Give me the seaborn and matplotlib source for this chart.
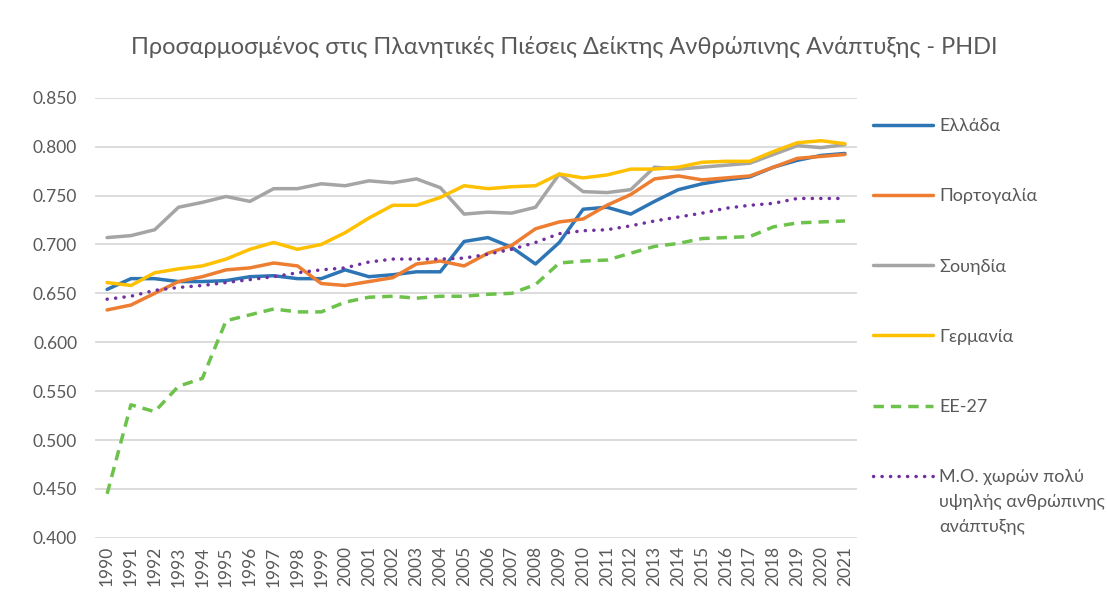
import matplotlib.pyplot as plt
import pandas as pd
import seaborn as sns

# values
years = [str(y) for y in range(1990, 2022)]

greece = [0.654, 0.665, 0.665, 0.662, 0.662, 0.663, 0.667, 0.668, 0.665, 0.665,
          0.674, 0.667, 0.669, 0.672, 0.672, 0.703, 0.707, 0.697, 0.680, 0.702,
          0.736, 0.738, 0.731, 0.744, 0.756, 0.762, 0.766, 0.769, 0.779, 0.786,
          0.791, 0.793]
portugal = [0.633, 0.638, 0.650, 0.662, 0.667, 0.674, 0.676, 0.681, 0.678, 0.660,
            0.658, 0.662, 0.666, 0.680, 0.683, 0.678, 0.691, 0.699, 0.716, 0.723,
            0.726, 0.740, 0.751, 0.767, 0.770, 0.766, 0.768, 0.770, 0.779, 0.788,
            0.790, 0.792]
sweden = [0.707, 0.709, 0.715, 0.738, 0.743, 0.749, 0.744, 0.757, 0.757, 0.762,
          0.760, 0.765, 0.763, 0.767, 0.758, 0.731, 0.733, 0.732, 0.738, 0.772,
          0.754, 0.753, 0.756, 0.779, 0.777, 0.779, 0.781, 0.783, 0.792, 0.801,
          0.799, 0.802]
germany = [0.661, 0.658, 0.671, 0.675, 0.678, 0.685, 0.695, 0.702, 0.695, 0.700,
           0.712, 0.727, 0.740, 0.740, 0.748, 0.760, 0.757, 0.759, 0.760, 0.772,
           0.768, 0.771, 0.777, 0.777, 0.779, 0.784, 0.785, 0.785, 0.795, 0.804,
           0.806, 0.803]
eu27 = [0.445, 0.536, 0.529, 0.555, 0.563, 0.622, 0.628, 0.634, 0.631, 0.631,
        0.641, 0.646, 0.647, 0.645, 0.647, 0.647, 0.649, 0.650, 0.659, 0.681,
        0.683, 0.684, 0.691, 0.698, 0.701, 0.706, 0.707, 0.708, 0.718, 0.722,
        0.723, 0.724]
very_high = [0.644, 0.647, 0.653, 0.656, 0.658, 0.661, 0.664, 0.667, 0.671, 0.674,
             0.676, 0.682, 0.685, 0.685, 0.685, 0.686, 0.690, 0.695, 0.702, 0.711,
             0.714, 0.715, 0.719, 0.724, 0.728, 0.732, 0.737, 0.740, 0.742, 0.747,
             0.747, 0.747]

labels = ['Ελλάδα', 'Πορτογαλία', 'Σουηδία', 'Γερμανία', 'ΕΕ-27', 'Μ.Ο. χωρών πολύ']
label_rest = ['υψηλής ανθρώπινης', 'ανάπτυξης']
series = [greece, portugal, sweden, germany, eu27, very_high]

colors = ['#2E75B6', '#ED7D31', '#A5A5A5', '#FFC000', '#6CC24A', '#7030A0']
styles = ['-', '-', '-', '-', (0, (3.0, 2.0)), (0, (0.05, 2.4))]
grey_txt = '#595959'

sns.set_style('white')
plt.rcParams['font.family'] = ['Lato', 'DejaVu Sans']

fig = plt.figure(figsize=(11.07, 6.07), dpi=100)
ax = fig.add_axes([0.086, 0.114, 0.688, 0.725])

pos = list(range(len(years)))
for lab, vals, c, ls in zip(labels, series, colors, styles):
    df = pd.DataFrame({'x': pos, 'y': vals})
    sns.lineplot(data=df, x='x', y='y', ax=ax, color=c, linewidth=2.5,
                 label=lab, linestyle=ls,
                 dash_capstyle='round' if ls == styles[5] else 'butt')

ax.set_xlim(-0.5, len(years) - 0.5)
ax.set_ylim(0.4, 0.85)
ax.set_yticks([0.40 + 0.05 * i for i in range(10)])
ax.set_yticklabels([f'{0.40 + 0.05 * i:.3f}' for i in range(10)])
ax.set_xticks(pos)
ax.set_xticklabels(years, rotation=90)
ax.tick_params(axis='both', length=0, labelsize=12.5, labelcolor=grey_txt)
ax.tick_params(axis='y', pad=13)
ax.tick_params(axis='x', pad=6)
ax.set_xlabel('')
ax.set_ylabel('')
ax.grid(axis='y', color='#d9d9d9', linewidth=1.3)
ax.set_axisbelow(True)
for s in ax.spines.values():
    s.set_visible(False)

ax.get_legend().remove()
handles, labs = ax.get_legend_handles_labels()
leg = fig.legend(handles, labs, loc='upper left', bbox_to_anchor=(0.774, 0.832),
                 frameon=False, fontsize=13, labelcolor=grey_txt,
                 handlelength=3.3, handletextpad=0.35, labelspacing=3.0)

fig.text(0.51, 0.923,
         'Προσαρμοσμένος στις Πλανητικές Πιέσεις Δείκτης Ανθρώπινης Ανάπτυξης - PHDI',
         ha='center', va='center', fontsize=16.9, color=grey_txt)

# continuation of the last (wrapped) legend label, under its first line
fig.canvas.draw()
last = leg.get_texts()[-1]
bb = last.get_window_extent().transformed(fig.transFigure.inverted())
yc = (bb.y0 + bb.y1) / 2
for i, line in enumerate(label_rest, start=1):
    fig.text(bb.x0, yc - i * 25 / 607, line, ha='left', va='center',
             fontsize=13, color=grey_txt)

fig.savefig('out.png', dpi=100)
